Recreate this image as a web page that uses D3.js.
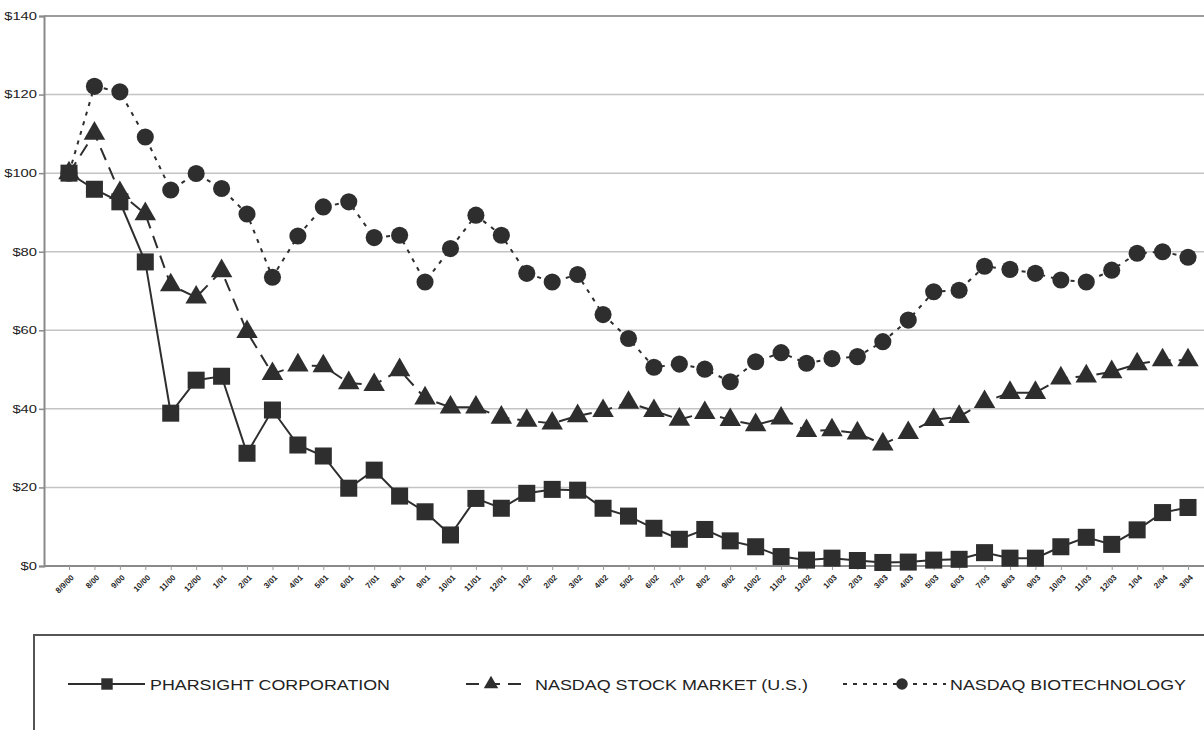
<!DOCTYPE html>
<html lang="en">
<head>
    <meta charset="UTF-8">
    <title>Pharsight - cumulative total return</title>
    <script src="https://d3js.org/d3.v7.min.js"></script>
    <style>
        html, body {
            margin: 0;
            background: #fff;
            font-family: "Liberation Sans", Arial, sans-serif;
        }
    </style>
</head>
<body>
    <div id="vis"></div>
    <script>
        // month labels, 8/9/00 start through 3/04
        var months = ["8/9/00", "8/00", "9/00", "10/00", "11/00", "12/00",
            "1/01", "2/01", "3/01", "4/01", "5/01", "6/01", "7/01", "8/01", "9/01", "10/01", "11/01", "12/01",
            "1/02", "2/02", "3/02", "4/02", "5/02", "6/02", "7/02", "8/02", "9/02", "10/02", "11/02", "12/02",
            "1/03", "2/03", "3/03", "4/03", "5/03", "6/03", "7/03", "8/03", "9/03", "10/03", "11/03", "12/03",
            "1/04", "2/04", "3/04"];

        var pharsight = [100, 95.9, 92.7, 77.4, 38.9, 47.3, 48.3, 28.7, 39.7, 30.8, 28.0, 19.8, 24.4, 17.8, 13.8,
            7.9, 17.2, 14.7, 18.5, 19.5, 19.3, 14.7, 12.7, 9.6, 6.8, 9.3, 6.4, 4.9, 2.4, 1.5,
            2.0, 1.4, 0.9, 1.0, 1.5, 1.7, 3.4, 2.0, 2.0, 4.9, 7.3, 5.5, 9.2, 13.6, 14.9];

        var nasdaqMarket = [100, 110.1, 95.0, 89.6, 71.5, 68.4, 75.1, 59.6, 48.9, 51.1, 50.9, 46.6, 46.1, 49.9, 42.7,
            40.4, 40.4, 37.8, 37.0, 36.3, 38.2, 39.5, 41.6, 39.5, 37.3, 39.0, 37.2, 35.9, 37.6, 34.4,
            34.6, 33.8, 31.0, 33.9, 37.2, 38.0, 41.8, 44.1, 44.1, 47.8, 48.3, 49.4, 51.4, 52.4, 52.4];

        var nasdaqBiotech = [100, 122.1, 120.7, 109.2, 95.7, 99.9, 96.1, 89.6, 73.5, 84.0, 91.4, 92.7, 83.6, 84.2, 72.3,
            80.8, 89.3, 84.2, 74.5, 72.3, 74.2, 64.0, 57.9, 50.6, 51.4, 50.1, 46.9, 52.0, 54.3, 51.6,
            52.8, 53.3, 57.1, 62.6, 69.8, 70.2, 76.3, 75.5, 74.5, 72.8, 72.3, 75.3, 79.6, 80.0, 78.6];

        var yTicks = [0, 20, 40, 60, 80, 100, 120, 140];

        var seriesNames = ["PHARSIGHT CORPORATION", "NASDAQ STOCK MARKET (U.S.)", "NASDAQ BIOTECHNOLOGY"];

        var W = 1204, H = 730;
        var ink = "#2e2e2e";

        var svg = d3.select("#vis").append("svg")
            .attr("width", W)
            .attr("height", H);

        var x = d3.scalePoint()
            .domain(months)
            .range([69, 1188]);

        var y = d3.scaleLinear()
            .domain([0, 140])
            .range([566, 16]);

        // grid lines
        svg.append("g")
            .selectAll("line")
            .data(yTicks.slice(1))
            .enter().append("line")
                .attr("x1", 44).attr("x2", W)
                .attr("y1", function(d) { return y(d); })
                .attr("y2", function(d) { return y(d); })
                .attr("stroke", "#c4c4c4")
                .attr("stroke-width", 1.5);

        // y axis
        var yAxis = svg.append("g")
            .attr("transform", "translate(44,0)")
            .call(d3.axisLeft(y).tickValues(yTicks).tickSize(5).tickFormat(function(d) { return "$" + d; }));
        yAxis.select(".domain").attr("stroke", "#8a8a8a").attr("stroke-width", 2);
        yAxis.selectAll(".tick line").attr("stroke", "#8a8a8a").attr("stroke-width", 1.5);
        yAxis.selectAll("text")
            .attr("x", -7)
            .attr("fill", "#222")
            .style("font-size", "10.5px")
            .style("font-family", "'Liberation Sans', Arial, sans-serif")
            .attr("textLength", function(d) { return ("$" + d).length * 8.2; })
            .attr("lengthAdjust", "spacingAndGlyphs");

        // x axis
        svg.append("line")
            .attr("x1", 44).attr("x2", W)
            .attr("y1", y(0)).attr("y2", y(0))
            .attr("stroke", "#8a8a8a").attr("stroke-width", 2);

        var xAxis = svg.append("g")
            .attr("transform", "translate(0," + y(0) + ")")
            .call(d3.axisBottom(x).tickSize(4).tickSizeOuter(0));
        xAxis.select(".domain").remove();
        xAxis.selectAll(".tick line").attr("stroke", "#9a9a9a");
        xAxis.selectAll("text")
            .attr("fill", "#222")
            .style("font-size", "8px")
            .style("font-weight", "bold")
            .style("font-family", "'Liberation Sans', Arial, sans-serif")
            .attr("text-anchor", "end")
            .attr("dy", null)
            .attr("y", 0)
            .attr("transform", "translate(5,12) rotate(-45)");

        // top frame line
        svg.append("line")
            .attr("x1", 44).attr("x2", W)
            .attr("y1", 16).attr("y2", 16)
            .attr("stroke", "#8a8a8a").attr("stroke-width", 1.5);

        var line = d3.line()
            .x(function(d, i) { return x(months[i]); })
            .y(function(d) { return y(d); });

        var styles = [
            {data: pharsight, dash: null, marker: d3.symbolSquare, size: 290},
            {data: nasdaqMarket, dash: "13,8", marker: d3.symbolTriangle, size: 200},
            {data: nasdaqBiotech, dash: "4,6", marker: d3.symbolCircle, size: 230}
        ];

        // draw back to front: biotech, market, pharsight
        styles.slice().reverse().forEach(function(s) {
            svg.append("path")
                .datum(s.data)
                .attr("fill", "none")
                .attr("stroke", ink)
                .attr("stroke-width", 2)
                .attr("stroke-dasharray", s.dash)
                .attr("d", line);

            svg.append("g")
                .selectAll("path")
                .data(s.data)
                .enter().append("path")
                    .attr("transform", function(d, i) { return "translate(" + x(months[i]) + "," + y(d) + ")"; })
                    .attr("d", d3.symbol().type(s.marker).size(s.size))
                    .attr("fill", ink);
        });

        // legend box
        svg.append("rect")
            .attr("x", 34).attr("y", 635)
            .attr("width", W).attr("height", 200)
            .attr("fill", "none")
            .attr("stroke", "#555")
            .attr("stroke-width", 2);

        var legendItems = [
            {x1: 68, x2: 145, mx: 107, tx: 150, len: 240},
            {x1: 466, x2: 528, mx: 491, tx: 535, len: 273},
            {x1: 843, x2: 946, mx: 902, tx: 950, len: 236}
        ];

        var legend = svg.append("g").selectAll("g")
            .data(seriesNames)
            .enter().append("g");

        legend.append("line")
            .attr("x1", function(d, i) { return legendItems[i].x1; })
            .attr("x2", function(d, i) { return legendItems[i].x2; })
            .attr("y1", 684).attr("y2", 684)
            .attr("stroke", ink)
            .attr("stroke-width", 2)
            .attr("stroke-dasharray", function(d, i) { return styles[i].dash; });

        legend.append("path")
            .attr("transform", function(d, i) { return "translate(" + legendItems[i].mx + ",684)"; })
            .attr("d", function(d, i) { return d3.symbol().type(styles[i].marker).size(styles[i].size * 0.45)(); })
            .attr("fill", ink);

        legend.append("text")
            .attr("x", function(d, i) { return legendItems[i].tx; })
            .attr("y", 690)
            .attr("fill", "#222")
            .style("font-size", "15px")
            .attr("textLength", function(d, i) { return legendItems[i].len; })
            .attr("lengthAdjust", "spacingAndGlyphs")
            .text(function(d) { return d; });
    </script>
</body>
</html>
